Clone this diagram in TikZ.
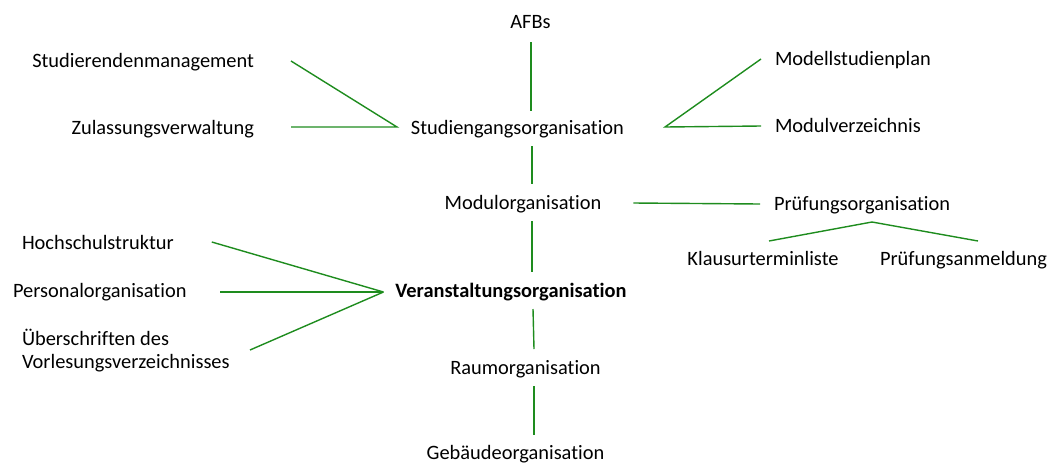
\documentclass[tikz,border=0pt]{standalone}
\usepackage{fontspec}
\setmainfont{Carlito}[Ligatures=CommonOff]
\definecolor{lgreen}{RGB}{30,140,30}
\begin{document}
\begin{tikzpicture}[x=1pt,y=-1pt,
  lbl/.style={inner sep=0pt,outer sep=0pt,font=\fontsize{20.4}{23.5}\selectfont},
  conn/.style={draw=lgreen,line width=1.4pt}]
\useasboundingbox (0,0) rectangle (1051,464);
% central column
\node[lbl,anchor=base] (afb) at (530.5,28) {AFBs};
\node[lbl,anchor=base] (stg) at (517.5,134) {Studiengangsorganisation};
\node[lbl,anchor=base] (mod) at (523,209) {Modulorganisation};
\node[lbl,anchor=base,font=\fontsize{20.4}{23.5}\selectfont\bfseries] (ver) at (511,297) {Veranstaltungsorganisation};
\node[lbl,anchor=base] (raum) at (525.5,374) {Raumorganisation};
\node[lbl,anchor=base] (geb) at (515.5,459) {Gebäudeorganisation};
% left top
\node[lbl,anchor=base east] (stm) at (254,67) {Studierendenmanagement};
\node[lbl,anchor=base east] (zul) at (254,134) {Zulassungsverwaltung};
% right top
\node[lbl,anchor=base west] (msp) at (775,65) {Modellstudienplan};
\node[lbl,anchor=base west] (mvz) at (775,132) {Modulverzeichnis};
% right middle
\node[lbl,anchor=base west] (pruef) at (774,210) {Prüfungsorganisation};
\node[lbl,anchor=base] (klaus) at (763,265) {Klausurterminliste};
\node[lbl,anchor=base] (anm) at (963.5,265) {Prüfungsanmeldung};
% left bottom
\node[lbl,anchor=base west] (hoch) at (22,249) {Hochschulstruktur};
\node[lbl,anchor=base west] (pers) at (13,297) {Personalorganisation};
\node[lbl,anchor=base west] (ueb) at (22,345) {\begin{tabular}[t]{@{}l@{}}Überschriften des\\Vorlesungsverzeichnisses\end{tabular}};

% vertical connectors
\draw[conn] ([shift={(0.5,14)}]afb.base) -- ([shift={(13.5,-23)}]stg.base);
\draw[conn] ([shift={(14.5,12)}]stg.base) -- ([shift={(9,-25)}]mod.base);
\draw[conn] ([shift={(9,12)}]mod.base) -- ([shift={(21,-25)}]ver.base);
\draw[conn] ([shift={(22,12)}]ver.base) -- ([shift={(8.5,-25)}]raum.base);
\draw[conn] ([shift={(8.5,12)}]raum.base) -- ([shift={(18.5,-24)}]geb.base);
% left top
\draw[conn] ([shift={(37,-6)}]stm.base east) -- ([shift={(-14,-7)}]stg.base west) -- ([shift={(37,-7)}]zul.base east);
% right top
\draw[conn] ([shift={(-14,-6)}]msp.base west) -- ([shift={(41,-7)}]stg.base east) -- ([shift={(-14,-6)}]mvz.base west);
% modul -> pruefung
\draw[conn] ([shift={(32,-6)}]mod.base east) -- ([shift={(-14,-6)}]pruef.base west);
% pruefung tree
\draw[conn] ([shift={(6,-24)}]klaus.base) -- ([shift={(98,12)}]pruef.base west) -- ([shift={(14.5,-24)}]anm.base);
% left bottom
\draw[conn] ([shift={(38,-7)}]hoch.base east) -- ([shift={(-12,-5)}]ver.base west);
\draw[conn] ([shift={(34,-5)}]pers.base east) -- ([shift={(-12,-5)}]ver.base west);
\draw[conn] ([shift={(228,5)}]ueb.base west) -- ([shift={(-12,-5)}]ver.base west);
\end{tikzpicture}
\end{document}
